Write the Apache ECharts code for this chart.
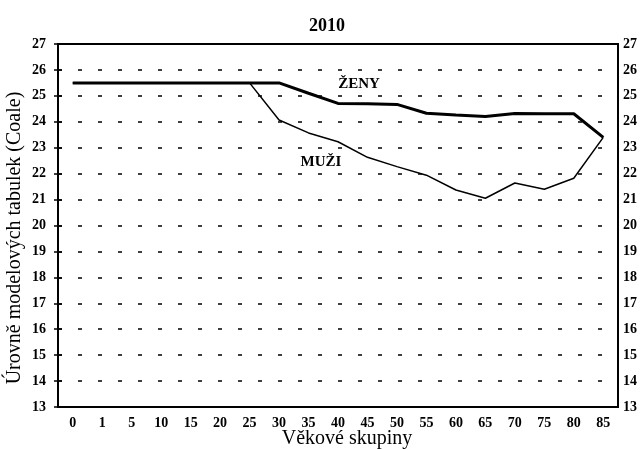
<!DOCTYPE html>
<html>
<head>
<meta charset="utf-8">
<script src="https://cdn.jsdelivr.net/npm/echarts@6/dist/echarts.min.js"></script>
<style>html,body{margin:0;padding:0;background:#fff;}#c{width:643px;height:449px;}</style>
</head>
<body>
<div id="c"></div>
<script>
const categories = ['0','1','5','10','15','20','25','30','35','40','45','50','55','60','65','70','75','80','85'];
const zeny = [25.5,25.5,25.5,25.5,25.5,25.5,25.5,25.5,25.1,24.71,24.7,24.67,24.33,24.26,24.2,24.32,24.31,24.31,23.4];
const muzi = [25.5,25.5,25.5,25.5,25.5,25.5,25.5,24.07,23.57,23.23,22.63,22.27,21.94,21.37,21.05,21.64,21.4,21.82,23.4];
const title = '2010';
const xName = 'Věkové skupiny';
const yName = 'Úrovně modelových tabulek (Coale)';
const seriesNames = ['ŽENY','MUŽI'];

const FONT = '"Liberation Serif", "DejaVu Serif", serif';
const chart = echarts.init(document.getElementById('c'));
const yBase = {type: 'value', min: 13, max: 27, interval: 1};
chart.setOption({
  animation: false,
  backgroundColor: '#fff',
  title: {text: title, left: 322, textAlign: 'center', top: 12,
    textStyle: {fontFamily: FONT, fontSize: 18, fontWeight: 'bold', color: '#000'}},
  grid: {left: 58, right: 25, top: 44, bottom: 42, show: true, borderColor: '#000', borderWidth: 2, backgroundColor: 'transparent'},
  xAxis: {
    type: 'category', data: categories, boundaryGap: true,
    axisLine: {lineStyle: {color: '#000', width: 2}},
    axisTick: {alignWithLabel: true, length: 5, lineStyle: {color: '#000', width: 1.5}},
    axisLabel: {color: '#000', fontFamily: FONT, fontSize: 14, fontWeight: 'bold', margin: 9, interval: 0},
    splitLine: {show: false}
  },
  yAxis: [
    Object.assign({}, yBase, {
      position: 'left',
      axisLine: {show: true, lineStyle: {color: '#000', width: 2}},
      axisTick: {show: true, length: 4, lineStyle: {color: '#000', width: 1.5}},
      axisLabel: {color: '#000', fontFamily: FONT, fontSize: 14, fontWeight: 'bold', margin: 12},
      splitLine: {show: true, lineStyle: {color: '#000', width: 1.5, type: [4, 16]}}
    }),
    Object.assign({}, yBase, {
      position: 'right',
      axisLine: {show: true, lineStyle: {color: '#000', width: 2}},
      axisTick: {show: false},
      axisLabel: {color: '#000', fontFamily: FONT, fontSize: 14, fontWeight: 'bold', margin: 5},
      splitLine: {show: false}
    }),
    Object.assign({}, yBase, {
      position: 'left',
      axisLine: {show: false},
      axisTick: {show: true, inside: true, length: 4, lineStyle: {color: '#000', width: 1.5}},
      axisLabel: {show: false},
      splitLine: {show: false}
    })
  ],
  series: [
    {name: seriesNames[0], type: 'line', data: zeny, symbol: 'none', yAxisIndex: 0,
      lineStyle: {color: '#000', width: 3}, z: 5},
    {name: seriesNames[1], type: 'line', data: muzi, symbol: 'none', yAxisIndex: 0,
      lineStyle: {color: '#000', width: 1.5}, z: 4}
  ],
  graphic: [
    {type: 'text', x: 359, y: 84, style: {text: seriesNames[0], font: 'bold 15px ' + FONT, fill: '#000', textAlign: 'center', textVerticalAlign: 'middle'}},
    {type: 'text', x: 321, y: 162, style: {text: seriesNames[1], font: 'bold 15px ' + FONT, fill: '#000', textAlign: 'center', textVerticalAlign: 'middle'}},
    {type: 'text', x: 347, y: 439, style: {text: xName, font: '20px ' + FONT, fill: '#000', textAlign: 'center', textVerticalAlign: 'middle'}},
    {type: 'text', x: 15, y: 238, rotation: Math.PI / 2, style: {text: yName, font: '20px ' + FONT, fill: '#000', textAlign: 'center', textVerticalAlign: 'middle'}}
  ]
});
</script>
</body>
</html>
